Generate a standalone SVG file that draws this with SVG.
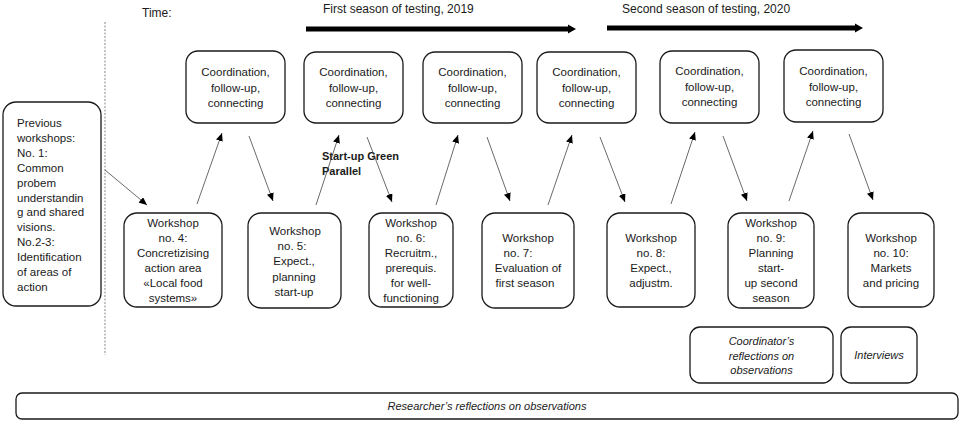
<svg xmlns="http://www.w3.org/2000/svg" width="960" height="422" viewBox="0 0 960 422">
  <style>
    .box { fill: #ffffff; stroke: #1a1a1a; stroke-width: 1.3; }
    .t { font-family: "Liberation Sans", Arial, sans-serif; font-size: 11.5px; fill: #1a1a1a; text-anchor: middle; }
    .tl { text-anchor: start; }
    .it { font-style: italic; font-size: 11px; }
    .hdr { font-family: "Liberation Sans", Arial, sans-serif; font-size: 12px; fill: #1a1a1a; }
    .bold { font-family: "Liberation Sans", Arial, sans-serif; font-size: 11px; font-weight: bold; fill: #1a1a1a; }
    .link { stroke: #444444; stroke-width: 0.8; fill: none; marker-end: url(#tip); }
    .time { stroke: #000000; stroke-width: 5; fill: none; }
  </style>
  <defs>
    <marker id="tip" markerUnits="userSpaceOnUse" markerWidth="8" markerHeight="7" refX="8" refY="3.5" orient="auto">
      <path d="M0,0 L8,3.5 L0,7 z" fill="#000000"/>
    </marker>
  </defs>

  <rect width="960" height="422" fill="#ffffff"/>

  <!-- time axis -->
  <g id="timeline">
    <text class="hdr" x="142" y="17">Time:</text>
    <text class="hdr" x="323" y="13">First season of testing, 2019</text>
    <line class="time" x1="306" y1="29" x2="569" y2="29"/>
    <path d="M568,24.5 L576,29 L568,33.5 z" fill="#000000"/>
    <text class="hdr" x="622" y="13">Second season of testing, 2020</text>
    <line class="time" x1="607" y1="28" x2="856" y2="28"/>
    <path d="M855,23.5 L863,28 L855,32.5 z" fill="#000000"/>
  </g>

  <!-- separator between earlier and current workshops -->
  <line id="separator" x1="105" y1="22" x2="105" y2="355" stroke="#888888" stroke-width="1" stroke-dasharray="2,1.5"/>

  <!-- coordination nodes -->
  <g id="coord1">
    <rect class="box" x="186" y="51" width="99" height="72" rx="12"/>
    <text class="t" x="235.5" y="76">Coordination,<tspan x="235.5" dy="15.5">follow-up,</tspan><tspan x="235.5" dy="15.5">connecting</tspan></text>
  </g>
  <g id="coord2">
    <rect class="box" x="304" y="52" width="99" height="71" rx="12"/>
    <text class="t" x="353.5" y="76">Coordination,<tspan x="353.5" dy="15.5">follow-up,</tspan><tspan x="353.5" dy="15.5">connecting</tspan></text>
  </g>
  <g id="coord3">
    <rect class="box" x="423" y="52" width="99" height="71" rx="12"/>
    <text class="t" x="472.5" y="76">Coordination,<tspan x="472.5" dy="15.5">follow-up,</tspan><tspan x="472.5" dy="15.5">connecting</tspan></text>
  </g>
  <g id="coord4">
    <rect class="box" x="537" y="52" width="99" height="71" rx="12"/>
    <text class="t" x="586.5" y="76">Coordination,<tspan x="586.5" dy="15.5">follow-up,</tspan><tspan x="586.5" dy="15.5">connecting</tspan></text>
  </g>
  <g id="coord5">
    <rect class="box" x="660" y="51" width="99" height="72" rx="12"/>
    <text class="t" x="709.5" y="75">Coordination,<tspan x="709.5" dy="15.5">follow-up,</tspan><tspan x="709.5" dy="15.5">connecting</tspan></text>
  </g>
  <g id="coord6">
    <rect class="box" x="784" y="50" width="99" height="72" rx="12"/>
    <text class="t" x="833.5" y="75">Coordination,<tspan x="833.5" dy="15.5">follow-up,</tspan><tspan x="833.5" dy="15.5">connecting</tspan></text>
  </g>

  <!-- earlier workshops -->
  <g id="previous">
    <rect class="box" x="3" y="102" width="98" height="204" rx="13"/>
    <text class="t tl" x="17" y="127">Previous<tspan x="17" dy="14.9">workshops:</tspan><tspan x="17" dy="14.9">No. 1:</tspan><tspan x="17" dy="14.9">Common</tspan><tspan x="17" dy="14.9">probem</tspan><tspan x="17" dy="14.9">understandin</tspan><tspan x="17" dy="14.9">g and shared</tspan><tspan x="17" dy="14.9">visions.</tspan><tspan x="17" dy="14.9">No.2-3:</tspan><tspan x="17" dy="14.9">Identification</tspan><tspan x="17" dy="14.9">of areas of</tspan><tspan x="17" dy="14.9">action</tspan></text>
  </g>

  <!-- workshop nodes -->
  <g id="ws4">
    <rect class="box" x="124" y="213" width="98" height="94" rx="13"/>
    <text class="t" x="173" y="227">Workshop<tspan x="173" dy="15">no. 4:</tspan><tspan x="173" dy="15">Concretizising</tspan><tspan x="173" dy="15">action area</tspan><tspan x="173" dy="15">«Local food</tspan><tspan x="173" dy="15">systems»</tspan></text>
  </g>
  <g id="ws5">
    <rect class="box" x="248" y="213" width="93" height="95" rx="13"/>
    <text class="t" x="295" y="235">Workshop<tspan x="292" dy="15.2">no. 5:</tspan><tspan x="294" dy="15.2">Expect.,</tspan><tspan x="294" dy="15.2">planning</tspan><tspan x="294" dy="15.2">start-up</tspan></text>
  </g>
  <g id="ws6">
    <rect class="box" x="369" y="213" width="84" height="94" rx="13"/>
    <text class="t" x="411" y="227">Workshop<tspan x="411" dy="15">no. 6:</tspan><tspan x="411" dy="15">Recruitm.,</tspan><tspan x="411" dy="15">prerequis.</tspan><tspan x="411" dy="15">for well-</tspan><tspan x="411" dy="15">functioning</tspan></text>
  </g>
  <g id="ws7">
    <rect class="box" x="482" y="213" width="92" height="95" rx="13"/>
    <text class="t" x="528" y="242">Workshop<tspan x="518" dy="15">no. 7:</tspan><tspan x="528" dy="15">Evaluation of</tspan><tspan x="525" dy="15">first season</tspan></text>
  </g>
  <g id="ws8">
    <rect class="box" x="607" y="213" width="88" height="94" rx="13"/>
    <text class="t" x="651" y="242">Workshop<tspan x="651" dy="15">no. 8:</tspan><tspan x="651" dy="15">Expect.,</tspan><tspan x="651" dy="15">adjustm.</tspan></text>
  </g>
  <g id="ws9">
    <rect class="box" x="728" y="213" width="86" height="95" rx="13"/>
    <text class="t" x="771" y="227">Workshop<tspan x="771" dy="15">no. 9:</tspan><tspan x="771" dy="15">Planning</tspan><tspan x="771" dy="15">start-</tspan><tspan x="771" dy="15">up second</tspan><tspan x="771" dy="15">season</tspan></text>
  </g>
  <g id="ws10">
    <rect class="box" x="848" y="213" width="86" height="94" rx="13"/>
    <text class="t" x="891" y="242">Workshop<tspan x="891" dy="15">no. 10:</tspan><tspan x="891" dy="15">Markets</tspan><tspan x="891" dy="15">and pricing</tspan></text>
  </g>

  <!-- reflection and interview nodes -->
  <g id="coordinator-reflections">
    <rect class="box" x="690" y="327" width="143" height="56" rx="10"/>
    <text class="t it" x="761.5" y="345">Coordinator’s<tspan x="761.5" dy="14.5">reflections on</tspan><tspan x="761.5" dy="14.5">observations</tspan></text>
  </g>
  <g id="interviews">
    <rect class="box" x="841" y="327" width="76" height="56" rx="10"/>
    <text class="t it" x="879" y="359">Interviews</text>
  </g>
  <g id="researcher-reflections">
    <rect class="box" x="16" y="393" width="942" height="26" rx="6"/>
    <text class="t it" x="487" y="410">Researcher’s reflections on observations</text>
  </g>

  <!-- parallel activity label -->
  <text id="parallel-label" class="bold" x="322" y="160">Start-up Green<tspan x="322" dy="15">Parallel</tspan></text>

  <!-- connectors -->
  <g id="connectors">
    <line class="link" x1="105" y1="170" x2="147" y2="205"/>
    <line class="link" x1="197" y1="204" x2="222" y2="133"/>
    <line class="link" x1="249" y1="136" x2="273" y2="201"/>
    <line class="link" x1="316" y1="205" x2="339" y2="135"/>
    <line class="link" x1="367" y1="137" x2="392" y2="202"/>
    <line class="link" x1="436" y1="205" x2="458" y2="135"/>
    <line class="link" x1="487" y1="137" x2="510" y2="201"/>
    <line class="link" x1="548" y1="205" x2="572" y2="135"/>
    <line class="link" x1="600" y1="137" x2="625" y2="202"/>
    <line class="link" x1="671" y1="204" x2="695" y2="132"/>
    <line class="link" x1="723" y1="136" x2="747" y2="201"/>
    <line class="link" x1="789" y1="201" x2="813" y2="131"/>
    <line class="link" x1="849" y1="134" x2="873" y2="200"/>
  </g>
</svg>
